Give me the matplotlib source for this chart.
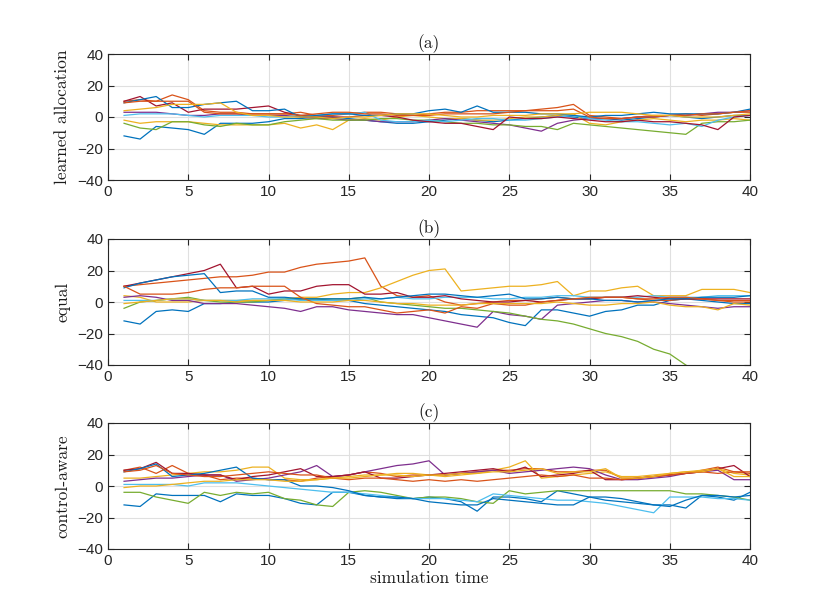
import numpy as np
import matplotlib
matplotlib.use("Agg")
import matplotlib.pyplot as plt

# ================= 数据 =================
t = list(range(1, 41))

# MATLAB 默认色序
colors = ['#0072BD', '#D95319', '#EDB120', '#7E2F8E', '#77AC30',
          '#4DBEEE', '#A2142F', '#0072BD', '#D95319', '#EDB120']

# (a) learned allocation
a_blue1 = [-12, -14, -6, -7, -8, -11, -4, -4, -4, -3, -1, -1, 0, 0, -1, -2, -3, -4, -4, -3,
           -2, -1, -2, -3, -2, -1, 0, 1, 0, -1, -1, -2, -1, 0, 1, 0, -1, 0, 1, 1]
a_orange1 = [10, 11, 10, 14, 11, 4, 3, 3, 2, 2, 2, 3, 1, 1, 2, 3, 3, 2, 1, 2,
             3, 3, 4, 4, 4, 4, 5, 6, 8, 1, 0, -1, 0, 1, 1, 2, 1, 2, 3, 3]
a_yellow1 = [-2, -4, -3, -3, -3, -4, -5, -5, -5, -5, -4, -7, -5, -8, -2, -1, -2, 0, 1, 0,
             -1, -1, -2, -2, -1, 0, 0, 1, 2, -4, -5, -3, -2, -1, -2, -3, -2, -2, -1, -2]
a_purple = [3, 3, 3, 2, 1, 1, 2, 2, 1, 1, 1, 0, -1, -1, -2, -2, -3, -3, -3, -2,
            -1, -2, -3, -4, -5, -7, -9, -4, -2, -1, -1, -1, 0, 0, 1, 1, 2, 3, 3, 4]
a_green = [-4, -7, -8, -3, -3, -5, -6, -4, -5, -5, -3, -2, -1, -2, -2, -2, -1, -1, -2, -2,
           -3, -4, -4, -5, -5, -6, -6, -8, -4, -5, -6, -7, -8, -9, -10, -11, -4, -3, -3, -2]
a_lightblue = [1, 2, 2, 2, 1, 0, 1, 1, 1, 0, 0, 1, 1, 2, 2, 3, -2, -3, -3, -2,
               -3, -2, -1, -1, -2, -2, -1, 0, 1, -1, -2, -3, -3, -4, -5, -4, -6, -2, 0, 1]
a_darkred = [10, 13, 7, 9, 3, 5, 5, 5, 6, 7, 3, 1, 0, 0, 0, 1, 1, 0, -2, -3,
             -4, -4, -6, -8, 0, -1, -1, 0, -1, -2, -3, -3, -2, -3, -3, -4, -5, -8, 0, 1]
a_blue2 = [9, 11, 13, 6, 6, 8, 9, 10, 4, 4, 5, 0, 1, 2, 2, 1, 1, 2, 2, 4,
           5, 3, 7, 3, 3, 3, 2, 2, 1, 0, 1, 1, 2, 3, 2, 2, 2, 2, 3, 5]
a_orange2 = [9, 10, 10, 10, 10, 3, 2, 2, 2, 2, 2, 1, 2, 3, 3, 2, 2, 1, 1, 1,
             2, 2, 2, 2, 3, 4, 4, 4, 5, 0, -1, -1, 0, 0, 1, 1, 2, 2, 3, 4]
a_yellow2 = [4, 5, 6, 8, 8, 8, 9, 3, 1, 1, 0, 0, 0, -1, 0, 0, 1, 2, 2, 2,
             1, 0, 0, 1, 1, 1, 2, 2, 2, 3, 3, 3, 2, 1, 1, 0, 0, 0, 1, 2]

# (b) equal
b_blue1 = [-12, -14, -6, -5, -6, -1, -1, 0, 0, 0, 1, 2, 2, 1, 1, -1, -2, -3, -4, -5,
           -6, -8, -9, -10, -13, -15, -5, -5, -7, -9, -6, -5, -2, -2, 1, 2, 1, 0, -1, -1]
b_orange1 = [10, 11, 12, 13, 14, 15, 16, 16, 17, 19, 19, 22, 24, 25, 26, 28, 10, 4, 3, 4,
             0, -2, -1, 0, 1, 1, 2, 3, 2, 2, 3, 3, 2, 1, 1, 2, 2, 1, 1, 1]
b_yellow1 = [4, 3, 0, 0, 0, 1, 1, 1, 1, 1, 2, 3, 3, 5, 6, 6, 9, 13, 17, 20,
             21, 7, 8, 9, 10, 10, 11, 13, 4, 7, 7, 9, 10, 4, 4, 4, 8, 8, 8, 6]
b_purple = [3, 4, 3, 1, 1, -1, -1, -1, -2, -3, -4, -6, -3, -3, -5, -6, -7, -8, -8, -10,
            -12, -14, -16, -6, -8, -9, -11, -2, -1, 0, 1, 1, 0, 0, -1, -2, -3, -4, -3, -3]
b_green = [-4, 0, 1, 2, 3, 1, 0, 0, 0, 1, 2, 2, 2, 2, 2, 3, 0, -1, -2, -3,
           -4, -4, -5, -6, -7, -9, -11, -12, -14, -17, -20, -22, -25, -30, -33, -40, -46, -52, -58, -64]
b_lightblue = [1, 1, 1, 2, 2, 1, 1, 1, 2, 2, 2, 1, 1, 1, 1, 2, 2, 3, 2, 2,
               3, 3, 3, 2, 2, 3, 3, 4, 4, 3, 3, 3, 3, 4, 3, 3, 3, 4, 4, 4]
b_darkred = [10, 12, 14, 16, 18, 20, 24, 9, 10, 5, 7, 7, 10, 11, 11, 5, 5, 6, 3, 3,
             4, 2, 1, 0, 0, 1, 0, 1, 2, 2, 3, 3, 4, 3, 2, 2, 2, 2, 2, 2]
b_blue2 = [9, 12, 14, 16, 17, 18, 6, 7, 7, 3, 3, 2, 2, 2, 2, 3, 2, 3, 4, 5,
           5, 4, 3, 4, 5, 2, 2, 3, 2, 2, 1, 1, 0, 1, 2, 2, 3, 3, 3, 4]
b_orange2 = [10, 5, 5, 5, 6, 8, 9, 9, 10, 10, 10, 3, -1, -2, -3, -3, -5, -7, -6, -5,
             -7, -3, -4, -1, -2, -2, 0, 1, 2, 3, 3, 3, 2, 2, 3, 3, 2, 1, 0, 0]
b_yellow2 = [-1, 0, 1, 2, 2, 1, 1, 0, 1, 1, 1, 0, 0, 0, 1, 1, 0, -1, -1, -2,
             -2, -2, -1, -1, -1, -1, -1, 0, -1, -2, -2, -1, -1, 0, -2, -3, -3, -5, -1, -2]

# (c) control-aware
c_blue1 = [-12, -13, -5, -6, -6, -6, -10, -5, -6, -6, -8, -11, -12, -4, -4, -6, -7, -8, -8, -7,
           -8, -10, -16, -7, -7, -8, -10, -3, -5, -7, -7, -8, -10, -12, -12, -14, -6, -7, -9, -4]
c_orange1 = [10, 12, 8, 13, 8, 7, 4, 5, 5, 4, 4, 3, 5, 6, 7, 9, 8, 6, 7, 7,
             7, 8, 9, 10, 10, 11, 11, 9, 9, 10, 10, 5, 5, 6, 7, 8, 10, 12, 9, 8]
c_yellow1 = [5, 5, 6, 7, 8, 9, 9, 10, 12, 12, 5, 4, 4, 5, 6, 7, 7, 8, 8, 7,
             6, 7, 8, 10, 12, 16, 5, 6, 7, 8, 9, 6, 6, 7, 8, 9, 10, 11, 8, 7]
c_purple = [3, 4, 5, 5, 6, 7, 7, 3, 4, 5, 7, 9, 13, 6, 7, 9, 11, 13, 14, 16,
            7, 8, 9, 10, 8, 9, 10, 11, 12, 11, 7, 4, 4, 5, 6, 8, 9, 10, 4, 4]
c_green = [-4, -4, -7, -9, -11, -4, -6, -4, -5, -4, -8, -9, -12, -13, -4, -3, -4, -6, -8, -7,
           -7, -8, -10, -11, -3, -5, -4, -3, -3, -3, -3, -3, -3, -3, -3, -5, -5, -6, -7, -9]
c_lightblue = [1, 1, 1, 1, 0, 2, 2, 2, 1, 0, -1, -2, -3, -4, -4, -5, -6, -7, -8, -8,
               -8, -9, -10, -5, -6, -7, -8, -9, -9, -10, -11, -13, -15, -17, -7, -7, -7, -8, -8, -9]
c_darkred = [10, 11, 15, 8, 8, 7, 7, 4, 6, 7, 9, 11, 6, 6, 7, 9, 5, 5, 6, 7,
             8, 9, 10, 11, 9, 12, 6, 7, 8, 10, 4, 4, 5, 6, 7, 8, 9, 11, 13, 6]
c_blue2 = [9, 11, 14, 6, 7, 8, 10, 12, 5, 4, 4, 0, 0, -1, -3, -6, -7, -7, -8, -10,
           -11, -12, -12, -8, -9, -10, -11, -12, -12, -7, -9, -10, -11, -12, -13, -9, -6, -6, -7, -6]
c_orange2 = [9, 10, 13, 8, 7, 6, 6, 7, 8, 9, 8, 7, 7, 5, 4, 5, 5, 4, 3, 4,
             3, 4, 3, 4, 5, 6, 7, 6, 7, 5, 5, 4, 5, 6, 7, 8, 9, 8, 9, 9]
c_yellow2 = [-1, 0, 0, 1, 2, 3, 3, 4, 4, 4, 3, 3, 4, 5, 5, 6, 7, 7, 6, 7,
             7, 8, 8, 9, 9, 10, 11, 8, 9, 9, 11, 5, 5, 6, 8, 9, 9, 11, 6, 6]

panels = [
    ('(a)', 'learned allocation',
     [a_blue1, a_orange1, a_yellow1, a_purple, a_green, a_lightblue, a_darkred, a_blue2, a_orange2, a_yellow2]),
    ('(b)', 'equal',
     [b_blue1, b_orange1, b_yellow1, b_purple, b_green, b_lightblue, b_darkred, b_blue2, b_orange2, b_yellow2]),
    ('(c)', 'control-aware',
     [c_blue1, c_orange1, c_yellow1, c_purple, c_green, c_lightblue, c_darkred, c_blue2, c_orange2, c_yellow2]),
]

# ================= 绘图 =================
plt.rcParams['font.family'] = ['Liberation Sans', 'DejaVu Sans']
axis_col = '#262626'
serif = 'cmr10'

fig = plt.figure(figsize=(8.3, 6.15), dpi=100)
tops = [54, 239, 423]
for (title, ylab, series), top in zip(panels, tops):
    ax = fig.add_axes([108 / 830, 1 - (top + 126) / 615, 642 / 830, 126 / 615])
    for y, c in zip(series, colors):
        ax.plot(t, y, color=c, linewidth=0.9)
    ax.set_xlim(0, 40)
    ax.set_ylim(-40, 40)
    ax.set_xticks(range(0, 41, 5))
    ax.set_yticks(range(-40, 41, 20))
    ax.grid(True, color='#e0e0e0', linewidth=0.8)
    ax.set_axisbelow(True)
    ax.tick_params(direction='in', length=4, top=True, right=True,
                   labelsize=11, colors=axis_col, width=0.8)
    for sp in ax.spines.values():
        sp.set_color(axis_col)
        sp.set_linewidth(0.8)
    ax.set_title(title, fontfamily=serif, fontsize=12.5, pad=4, color='#1a1a1a')
    ax.set_ylabel(ylab, fontfamily=serif, fontsize=12.5, labelpad=5, color='#1a1a1a')
    if title == '(c)':
        ax.set_xlabel('simulation time', fontfamily=serif, fontsize=12.5, labelpad=2, color='#1a1a1a')

fig.savefig('out.png', dpi=100)
